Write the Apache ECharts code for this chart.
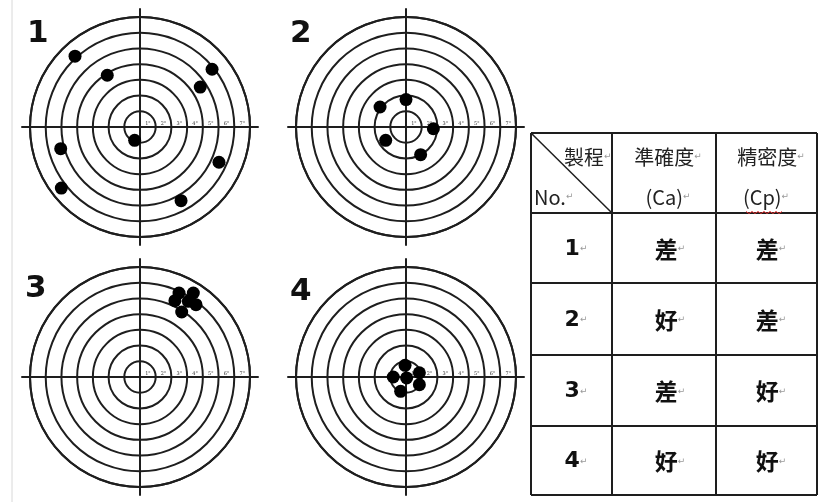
<!DOCTYPE html>
<html>
<head>
<meta charset="utf-8">
<script src="https://cdn.jsdelivr.net/npm/echarts@6/dist/echarts.min.js"></script>
<style>
html,body{margin:0;padding:0;background:#fff}
#chart{width:823px;height:502px}
</style>
</head>
<body>
<div id="chart"></div>
<script>
// 靶號與環數刻度
var targetNames = ['1', '2', '3', '4'];
var ringLabels = ['1"', '2"', '3"', '4"', '5"', '6"', '7"'];

// 各靶彈著點 (單位: 環)
var shots1 = [[-4.13, 4.50], [-2.08, 3.29], [4.58, 3.67], [3.83, 2.54], [-0.34, -0.85],
    [-5.04, -1.38], [-5.00, -3.88], [5.02, -2.24], [2.61, -4.68]];
var shots2 = [[-1.65, 1.27], [0.0, 1.74], [1.74, -0.11], [-1.29, -0.85], [0.93, -1.76]];
var shots3 = [[2.48, 5.34], [3.39, 5.34], [2.22, 4.85], [3.07, 4.81], [3.56, 4.60], [2.65, 4.13]];
var shots4 = [[-0.06, 0.74], [0.85, 0.27], [-0.81, 0.0], [0.04, -0.06], [0.85, -0.49], [-0.34, -0.91]];
var allShots = [shots1, shots2, shots3, shots4];

// 表格
var headTop = ['製程', '準確度', '精密度'];
var headBottom = ['No.', '(Ca)', '(Cp)'];
var tableNo = ['1', '2', '3', '4'];
var tableCa = ['差', '好', '差', '好'];
var tableCp = ['差', '差', '好', '好'];

var chart = echarts.init(document.getElementById('chart'));

var centers = [[140, 127], [406, 127], [140, 377], [406, 377]];
var lineColor = '#1e1e1e';
var titles = [], polars = [], radiusAxes = [], angleAxes = [], grids = [], xAxes = [], yAxes = [], series = [];
var titlePos = [[27, 18], [290, 18], [25, 273], [290, 276]];

centers.forEach(function (c, i) {
    titles.push({
        text: targetNames[i], left: titlePos[i][0], top: titlePos[i][1], padding: 0,
        textStyle: { fontSize: 31, fontWeight: 'bold', fontFamily: 'DejaVu Sans', color: '#111' }
    });
    polars.push({ center: c, radius: 110 });
    radiusAxes.push({
        polarIndex: i, type: 'value', min: 0, max: 7, interval: 1,
        axisLine: { show: false }, axisTick: { show: false }, axisLabel: { show: false },
        splitLine: { show: true, lineStyle: { color: lineColor, width: 2 } }
    });
    angleAxes.push({
        polarIndex: i, type: 'value', min: 0, max: 360,
        axisLine: { show: true, lineStyle: { color: lineColor, width: 2 } },
        axisTick: { show: false }, axisLabel: { show: false }, splitLine: { show: false }
    });
    grids.push({ left: c[0] - 118, top: c[1] - 118, width: 236, height: 236 });
    // 橫軸放在中心: 以 offset 從上緣往下移
    xAxes.push({
        gridIndex: i, type: 'value', min: -7.5, max: 7.5, interval: 1, position: 'top', offset: -118,
        axisLine: { onZero: false, lineStyle: { color: lineColor, width: 2 } },
        axisTick: { show: false }, splitLine: { show: false },
        axisLabel: {
            fontSize: 5, margin: 1, color: '#333', fontFamily: 'DejaVu Serif',
            formatter: function (v) {
                return v > 0 && v < 7 ? ringLabels[Math.ceil(v) - 1] : '';
            }
        }
    });
    yAxes.push({
        gridIndex: i, type: 'value', min: -7.5, max: 7.5,
        axisLine: { onZero: true, lineStyle: { color: lineColor, width: 2 } },
        axisTick: { show: false }, splitLine: { show: false }, axisLabel: { show: false }
    });
    series.push({
        type: 'scatter', xAxisIndex: i, yAxisIndex: i, data: allShots[i],
        symbolSize: 13, itemStyle: { color: '#000', opacity: 1 }, z: 5, silent: true
    });
});

// 表格 (graphic)
var colX = [531, 612, 716, 817];
var rowY = [133, 213, 283, 355, 426, 495];
var g = [];
g.push({ type: 'line', shape: { x1: 12, y1: 0, x2: 12, y2: 502 }, style: { stroke: '#d8d8d8', lineWidth: 1 } });
colX.forEach(function (x) {
    g.push({ type: 'line', shape: { x1: x, y1: rowY[0], x2: x, y2: rowY[5] }, style: { stroke: lineColor, lineWidth: 2 } });
});
rowY.forEach(function (y) {
    g.push({ type: 'line', shape: { x1: colX[0], y1: y, x2: colX[3], y2: y }, style: { stroke: lineColor, lineWidth: 2 } });
});
g.push({ type: 'line', shape: { x1: colX[0], y1: rowY[0], x2: colX[1], y2: rowY[1] }, style: { stroke: lineColor, lineWidth: 1.5 } });

var cjk = '"Noto Sans CJK TC"';
var rich = {
    t: { fontSize: 20, fontFamily: cjk, fill: '#222' },
    b: { fontSize: 22, fontWeight: 'bold', fontFamily: 'DejaVu Sans', fill: '#111' },
    c: { fontSize: 23, fontWeight: 'bold', fontFamily: cjk, fill: '#111' },
    m: { fontSize: 9, fontFamily: 'DejaVu Sans', fill: '#999' }
};
function txt(str, style, x, y, align) {
    g.push({
        type: 'text', z: 10,
        style: {
            text: '{' + style + '|' + str + '}{m|↵}', rich: rich,
            x: x, y: y, textAlign: align || 'center', textVerticalAlign: 'middle'
        }
    });
}
txt(headTop[0], 't', 564, 157, 'left');
txt(headBottom[0], 't', 534, 197, 'left');
txt(headTop[1], 't', 668, 157);
txt(headBottom[1], 't', 668, 197);
txt(headTop[2], 't', 771, 157);
txt(headBottom[2], 't', 766, 197);
// 拼字檢查紅色波浪線
var wave = [];
for (var k = 0; k <= 12; k++) wave.push([746 + k * 3, 212 + (k % 2 ? 1.5 : -0.5)]);
g.push({ type: 'polyline', shape: { points: wave }, style: { stroke: '#e03030', lineWidth: 1, fill: null }, z: 11 });

for (var r = 0; r < 4; r++) {
    var cy = (rowY[r + 1] + rowY[r + 2]) / 2 + 1;
    txt(tableNo[r], 'b', 576, cy);
    txt(tableCa[r], 'c', 670, cy);
    txt(tableCp[r], 'c', 771, cy);
}

var option = {
    backgroundColor: '#fff',
    animation: false,
    title: titles,
    polar: polars,
    radiusAxis: radiusAxes,
    angleAxis: angleAxes,
    grid: grids,
    xAxis: xAxes,
    yAxis: yAxes,
    series: series,
    graphic: { elements: g }
};
chart.setOption(option);
window.addEventListener('resize', function () { chart.resize(); });
</script>
</body>
</html>
